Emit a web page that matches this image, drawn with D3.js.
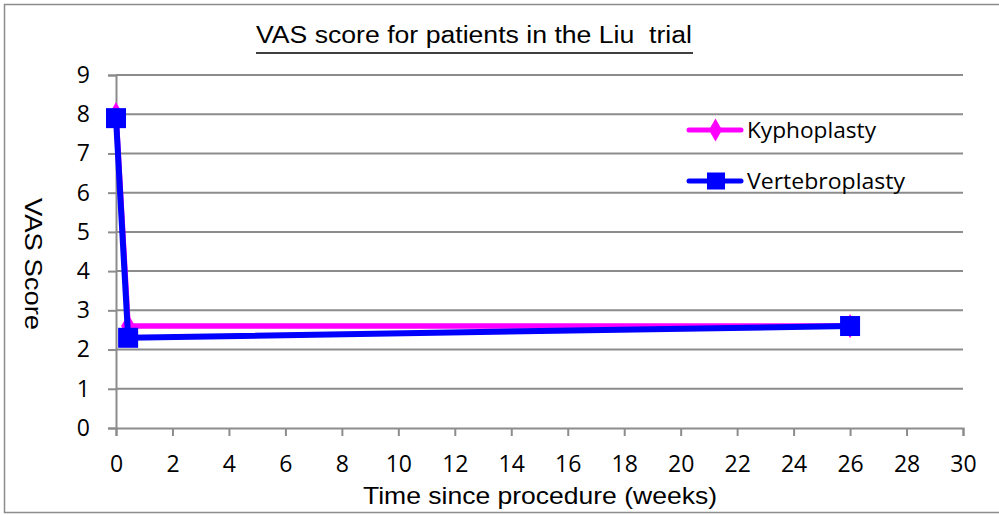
<!DOCTYPE html>
<html>
<head>
<meta charset="utf-8">
<script src="https://cdn.jsdelivr.net/npm/d3@7"></script>
<style>
  html, body { margin: 0; padding: 0; background: #fff; }
  svg { display: block; }
</style>
</head>
<body>
<svg id="chart" width="999" height="515"></svg>
<script>
// Weeks since procedure
const weeks = [0, 0.43, 26];
// Mean VAS pain scores
const kyphoplasty = [8.0, 2.6, 2.6];
const vertebroplasty = [7.9, 2.3, 2.6];
const xTicks = d3.range(0, 31, 2);
const yTicks = d3.range(0, 10, 1);
const seriesNames = ["Kyphoplasty", "Vertebroplasty"];

const svg = d3.select("#chart");
const W = 999, H = 515;
const m = { left: 116, right: 963, top: 75, bottom: 428 };
const tickFont = "Open Sans, Liberation Sans, sans-serif";

// Outer frame
svg.append("rect").attr("x", 4.5).attr("y", 4.5).attr("width", W + 10).attr("height", H - 7)
  .attr("fill", "#fff").attr("stroke", "#8c8c8c").attr("stroke-width", 1.5);

const x = d3.scaleLinear().domain([0, 30]).range([m.left, m.right]);
const y = d3.scaleLinear().domain([0, 9]).range([m.bottom, m.top]);

// Horizontal gridlines
svg.append("g").selectAll("line").data(yTicks.filter(d => d > 0)).join("line")
  .attr("x1", m.left).attr("x2", m.right)
  .attr("y1", d => y(d)).attr("y2", d => y(d))
  .attr("stroke", "#8c8c8c").attr("stroke-width", 2);

// Y axis
const yAxis = svg.append("g").attr("transform", `translate(${m.left},0)`)
  .call(d3.axisLeft(y).tickValues(yTicks).tickSize(8).tickPadding(18).tickFormat(d3.format("d")));
yAxis.select(".domain").attr("stroke", "#8c8c8c").attr("stroke-width", 2);
yAxis.selectAll(".tick line").attr("stroke", "#8c8c8c").attr("stroke-width", 2);
yAxis.selectAll(".tick text").attr("font-family", tickFont)
  .attr("font-size", 23).attr("fill", "#000");

// X axis
const xAxis = svg.append("g").attr("transform", `translate(0,${m.bottom})`)
  .call(d3.axisBottom(x).tickValues(xTicks).tickSize(8).tickPadding(20).tickFormat(d3.format("d")));
xAxis.select(".domain").attr("stroke", "#8c8c8c").attr("stroke-width", 2);
xAxis.selectAll(".tick line").attr("stroke", "#8c8c8c").attr("stroke-width", 2);
xAxis.selectAll(".tick text").attr("font-family", tickFont)
  .attr("font-size", 23).attr("fill", "#000");

// Title, underlined
svg.append("text").attr("x", 474).attr("y", 43).attr("text-anchor", "middle")
  .attr("font-family", "Liberation Sans, Arial, sans-serif").attr("font-size", 23)
  .attr("textLength", 436).attr("lengthAdjust", "spacingAndGlyphs")
  .attr("fill", "#000").style("white-space", "pre")
  .text("VAS score for patients in the Liu  trial");
svg.append("line").attr("x1", 256).attr("x2", 693).attr("y1", 53).attr("y2", 53)
  .attr("stroke", "#000").attr("stroke-width", 1.5);

// Axis titles
svg.append("text").attr("x", 540).attr("y", 504).attr("text-anchor", "middle")
  .attr("font-family", "Liberation Sans, Arial, sans-serif").attr("font-size", 24)
  .attr("textLength", 354).attr("lengthAdjust", "spacingAndGlyphs")
  .attr("fill", "#000").text("Time since procedure (weeks)");
svg.append("text").attr("transform", "translate(25,264) rotate(90)").attr("text-anchor", "middle")
  .attr("font-family", "Liberation Sans, Arial, sans-serif").attr("font-size", 24)
  .attr("textLength", 132).attr("lengthAdjust", "spacingAndGlyphs")
  .attr("fill", "#000").text("VAS Score");

const line = d3.line().x(d => x(d[0])).y(d => y(d[1]));
const kData = weeks.map((w, i) => [w, kyphoplasty[i]]);
const vData = weeks.map((w, i) => [w, vertebroplasty[i]]);

// Kyphoplasty series (magenta, diamonds)
svg.append("path").datum(kData).attr("d", line).attr("fill", "none")
  .attr("stroke", "#ff00ff").attr("stroke-width", 5.5).attr("stroke-linejoin", "round");
const diamond = d3.symbol().type(d3.symbolDiamond).size(170);
svg.append("g").selectAll("path").data(kData).join("path")
  .attr("transform", d => `translate(${x(d[0])},${y(d[1])})`)
  .attr("d", diamond).attr("fill", "#ff00ff");

// Vertebroplasty series (blue, squares)
svg.append("path").datum(vData).attr("d", line).attr("fill", "none")
  .attr("stroke", "#0000ff").attr("stroke-width", 6).attr("stroke-linejoin", "round");
svg.append("g").selectAll("rect").data(vData).join("rect")
  .attr("x", d => x(d[0]) - 10).attr("y", d => y(d[1]) - 10)
  .attr("width", 20).attr("height", 20).attr("fill", "#0000ff");

// Legend
const legend = svg.append("g");
const legY = [130, 181];
legend.append("line").attr("x1", 689).attr("x2", 741).attr("y1", legY[0]).attr("y2", legY[0])
  .attr("stroke", "#ff00ff").attr("stroke-width", 5).attr("stroke-linecap", "round");
legend.append("path").attr("transform", `translate(715.5,${legY[0]})`)
  .attr("d", d3.symbol().type(d3.symbolDiamond).size(150)).attr("fill", "#ff00ff");
legend.append("line").attr("x1", 689).attr("x2", 741).attr("y1", legY[1]).attr("y2", legY[1])
  .attr("stroke", "#0000ff").attr("stroke-width", 5).attr("stroke-linecap", "round");
legend.append("rect").attr("x", 707).attr("y", legY[1] - 8.5).attr("width", 18).attr("height", 17).attr("fill", "#0000ff");
legend.selectAll("text").data(seriesNames).join("text")
  .attr("x", 747).attr("y", (d, i) => legY[i]).attr("dy", "0.35em")
  .attr("font-family", tickFont).attr("font-size", 22)
  .attr("textLength", (d, i) => [129, 158][i]).attr("lengthAdjust", "spacingAndGlyphs")
  .attr("fill", "#000").text(d => d);
</script>
</body>
</html>
